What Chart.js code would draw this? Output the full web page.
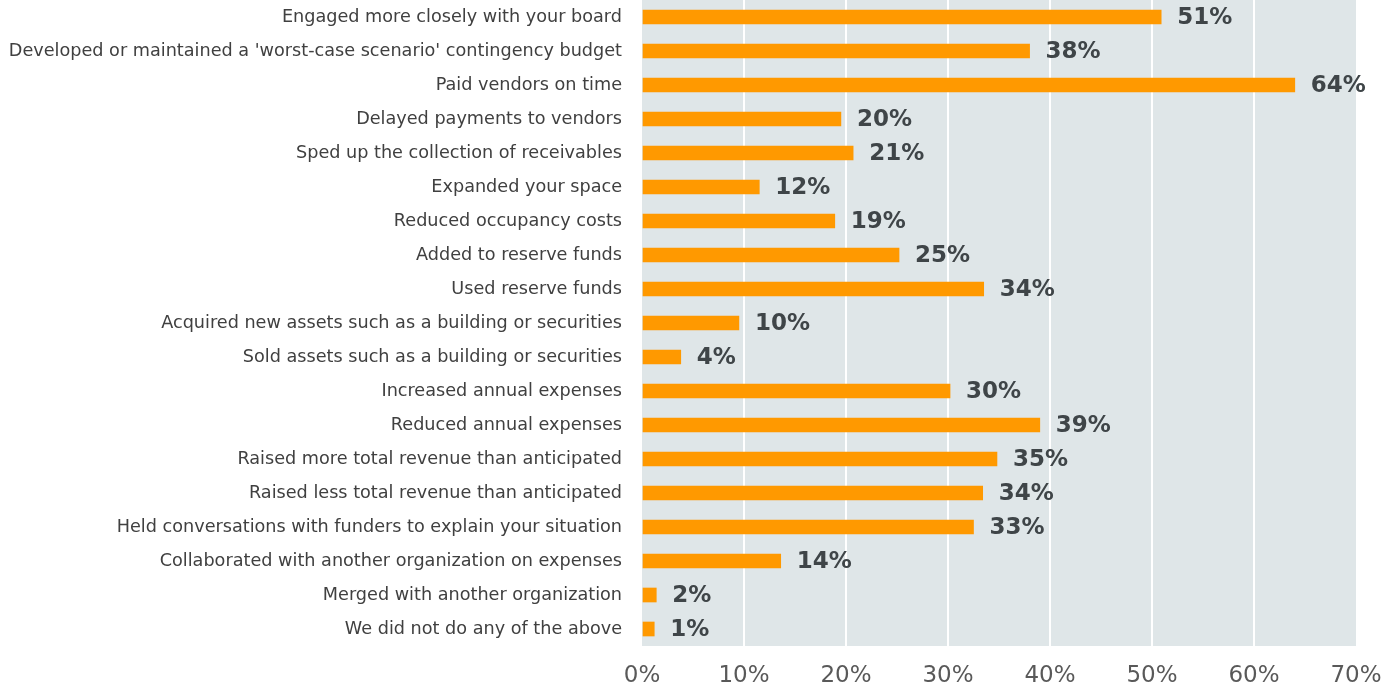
<!DOCTYPE html>
<html>
<head>
<meta charset="utf-8">
<script src="https://cdn.jsdelivr.net/npm/chart.js@4"></script>
<style>
  html, body { margin: 0; padding: 0; background: #ffffff; }
  #wrap { width: 1398px; height: 687px; position: relative; }
</style>
</head>
<body>
<div id="wrap"><canvas id="chart"></canvas></div>
<script>
// --- Datos ---
const categories = [
    'Engaged more closely with your board',
    "Developed or maintained a 'worst-case scenario' contingency budget",
    'Paid vendors on time',
    'Delayed payments to vendors',
    'Sped up the collection of receivables',
    'Expanded your space',
    'Reduced occupancy costs',
    'Added to reserve funds',
    'Used reserve funds',
    'Acquired new assets such as a building or securities',
    'Sold assets such as a building or securities',
    'Increased annual expenses',
    'Reduced annual expenses',
    'Raised more total revenue than anticipated',
    'Raised less total revenue than anticipated',
    'Held conversations with funders to explain your situation',
    'Collaborated with another organization on expenses',
    'Merged with another organization',
    'We did not do any of the above'
];
// longitudes de barra (%)
const values = [50.9, 38.0, 64.0, 19.5, 20.7, 11.5, 18.9, 25.2, 33.5, 9.5, 3.8, 30.2, 39.0, 34.8, 33.4, 32.5, 13.6, 1.4, 1.2];
// etiquetas tal como aparecen
const valueLabels = ['51%', '38%', '64%', '20%', '21%', '12%', '19%', '25%', '34%', '10%', '4%', '30%', '39%', '35%', '34%', '33%', '14%', '2%', '1%'];
const xTicks = [0, 10, 20, 30, 40, 50, 60, 70];

const PLOT_LEFT = 642;
const FONT = "'DejaVu Sans', Verdana, sans-serif";

// fondo gris del área del gráfico
const plotBackground = {
    id: 'plotBackground',
    beforeDraw(chart) {
        const { ctx, chartArea: a } = chart;
        ctx.save();
        ctx.fillStyle = '#dfe6e8';
        ctx.fillRect(a.left, a.top, a.right - a.left, a.bottom - a.top);
        ctx.restore();
    }
};

// etiquetas de valor al final de cada barra
const valueLabelsPlugin = {
    id: 'valueLabels',
    afterDatasetsDraw(chart) {
        const { ctx } = chart;
        const meta = chart.getDatasetMeta(0);
        ctx.save();
        ctx.font = 'bold 23px ' + FONT;
        ctx.fillStyle = '#3f4548';
        ctx.textAlign = 'left';
        ctx.textBaseline = 'middle';
        meta.data.forEach((bar, i) => {
            ctx.fillText(valueLabels[i], bar.x + 16, bar.y + 1);
        });
        ctx.restore();
    }
};

new Chart(document.getElementById('chart').getContext('2d'), {
    type: 'bar',
    data: {
        labels: categories,
        datasets: [{
            data: values,
            backgroundColor: '#ff9900',
            borderWidth: 0,
            barThickness: 14
        }]
    },
    options: {
        indexAxis: 'y',
        responsive: true,
        maintainAspectRatio: false,
        animation: false,
        layout: { padding: { top: 0, left: 0, bottom: 0, right: 42 } },
        plugins: {
            legend: { display: false },
            tooltip: { enabled: false }
        },
        scales: {
            x: {
                min: 0,
                max: 70,
                afterBuildTicks: (scale) => { scale.ticks = xTicks.map(v => ({ value: v })); },
                afterFit: (scale) => {
                    scale.height = 41;
                    scale.paddingLeft = 0;
                    scale.paddingRight = 0;
                },
                border: { display: false },
                grid: {
                    drawTicks: false,
                    lineWidth: 2,
                    color: (c) => (c.tick && (c.tick.value === 0 || c.tick.value === 70)) ? 'rgba(0,0,0,0)' : '#ffffff'
                },
                ticks: {
                    padding: 16,
                    color: '#595959',
                    font: { family: FONT, size: 23 },
                    callback: (v) => v + '%'
                }
            },
            y: {
                afterFit: (scale) => {
                    scale.width = PLOT_LEFT;
                    scale.paddingTop = 0;
                    scale.paddingBottom = 0;
                },
                border: { display: false },
                grid: { display: false, drawTicks: false },
                ticks: {
                    padding: 20,
                    autoSkip: false,
                    color: '#404040',
                    font: { family: FONT, size: 17.65 }
                }
            }
        }
    },
    plugins: [plotBackground, valueLabelsPlugin]
});
</script>
</body>
</html>
